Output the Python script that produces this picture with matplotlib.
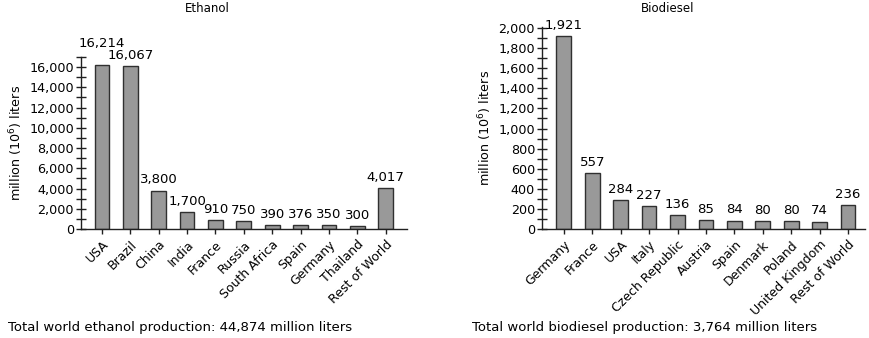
import matplotlib
matplotlib.use("Agg")
import matplotlib.pyplot as plt
from matplotlib.ticker import MultipleLocator, FuncFormatter

eth_countries = ["USA", "Brazil", "China", "India", "France", "Russia", "South Africa",
                 "Spain", "Germany", "Thailand", "Rest of World"]
eth_values = [16214, 16067, 3800, 1700, 910, 750, 390, 376, 350, 300, 4017]

bio_countries = ["Germany", "France", "USA", "Italy", "Czech Republic", "Austria", "Spain",
                 "Denmark", "Poland", "United Kingdom", "Rest of World"]
bio_values = [1921, 557, 284, 227, 136, 85, 84, 80, 80, 74, 236]

plt.rcParams['font.family'] = ['DejaVu Sans']
TICK_FS = 9.2
VAL_FS = 9.5
XL_FS = 9.0
TITLE_FS = 8.5
NOTE_FS = 9.5

W, H = 870, 338
fig = plt.figure(figsize=(W / 100, H / 100), dpi=100)
ax1 = fig.add_axes([81 / W, 1 - 229 / H, 326 / W, 172 / H])
ax2 = fig.add_axes([542 / W, 1 - 229 / H, 323 / W, 202 / H])

fmt = FuncFormatter(lambda v, p: f"{int(v):,}")

def draw(ax, cats, vals, ymax, major, minor, xlim, extra=None):
    extra = extra or {}
    x = list(range(len(cats)))
    ax.bar(x, vals, width=0.52, color="#999999", edgecolor="#303030", linewidth=1.0, zorder=2)
    for i, (xi, v) in enumerate(zip(x, vals)):
        ax.annotate(f"{v:,}", (xi, v), xytext=(0, 3 + extra.get(i, 0)), textcoords="offset points",
                    ha="center", va="bottom", fontsize=VAL_FS, annotation_clip=False)
    ax.set_ylim(0, ymax)
    ax.set_xlim(*xlim)
    ax.yaxis.set_major_locator(MultipleLocator(major))
    ax.yaxis.set_minor_locator(MultipleLocator(minor))
    ax.yaxis.set_major_formatter(fmt)
    ax.set_xticks(x)
    ax.set_xticklabels(cats, rotation=45, ha="right", rotation_mode="anchor", fontsize=XL_FS)
    ax.tick_params(axis="y", which="both", direction="inout", length=7, width=1,
                   labelsize=TICK_FS, pad=1.5, color="#202020")
    ax.tick_params(axis="x", direction="out", length=3.5, width=1, pad=3, color="#202020")
    for s in ["top", "right"]:
        ax.spines[s].set_visible(False)
    for s in ["left", "bottom"]:
        ax.spines[s].set_linewidth(1)
        ax.spines[s].set_color("#202020")
    ax.set_ylabel("million (10$^6$) liters", fontsize=TICK_FS, labelpad=3)

draw(ax1, eth_countries, eth_values, 17000, 2000, 1000, (-0.74, 10.75), extra={0: 8})
draw(ax2, bio_countries, bio_values, 2010, 200, 100, (-0.77, 10.6))

fig.text(207 / W, 1 - 8 / H, "Ethanol", ha="center", va="center", fontsize=TITLE_FS)
fig.text(668 / W, 1 - 8 / H, "Biodiesel", ha="center", va="center", fontsize=TITLE_FS)
fig.text(8 / W, 1 - 328 / H, "Total world ethanol production: 44,874 million liters",
         ha="left", va="center", fontsize=NOTE_FS)
fig.text(472 / W, 1 - 328 / H, "Total world biodiesel production: 3,764 million liters",
         ha="left", va="center", fontsize=NOTE_FS)

fig.savefig("out.png", dpi=100)
